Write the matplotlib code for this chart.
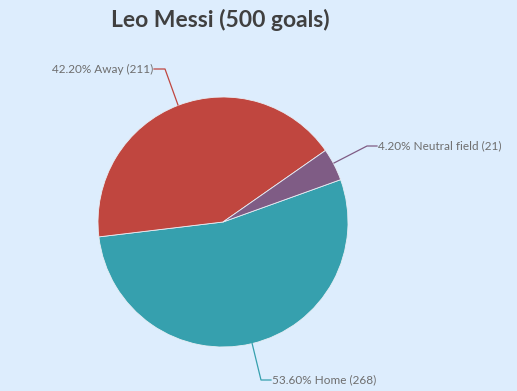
import matplotlib.pyplot as plt

labels = ["Home", "Away", "Neutral field"]
goals = [268, 211, 21]
colors = ["#36A0AE", "#C0463F", "#7F5C85"]

BG = "#DDEDFD"
TXT = "#6E6E6E"

fig = plt.figure(figsize=(5.17, 3.91), dpi=100, facecolor=BG)
ax = fig.add_axes([0, 0, 1, 1])
ax.set_facecolor(BG)

cx, cy, r = 223, 391 - 222, 125
wedges, _ = ax.pie(goals, colors=colors, startangle=19.8, counterclock=False,
                   center=(cx, cy), radius=r, frame=True,
                   wedgeprops=dict(edgecolor="#E8EEF5", linewidth=0.6))
ax.set_xlim(0, 517)
ax.set_ylim(0, 391)
ax.set_aspect("equal")
ax.axis("off")

total = sum(goals)
# label anchor points (pixel coords, y downward): tip on slice, elbow, text start
label_pos = {
    "Home": [(252, 343), (261, 380), (271, 380), "left"],
    "Away": [(178, 105), (165, 69), (154, 69), "right"],
    "Neutral field": [(334, 163), (367, 146), (377, 146), "left"],
}
for lab, g, c in zip(labels, goals, colors):
    p0, p1, p2, ha = label_pos[lab]
    xs = [p0[0], p1[0], p2[0]]
    ys = [391 - p0[1], 391 - p1[1], 391 - p2[1]]
    ax.plot(xs, ys, color=c, lw=0.9)
    tx = p2[0] + (1 if ha == "left" else -1)
    ax.text(tx, 391 - p2[1], f"{g / total * 100:.2f}% {lab} ({g})",
            ha=ha, va="center", fontsize=8.5, color=TXT, family="Lato")

fig.text(0.426, 1 - 20 / 391, "Leo Messi (500 goals)", ha="center", va="center",
         fontsize=16.5, fontweight="bold", color="#404040", family="Lato")

fig.savefig("out.png", dpi=100, facecolor=BG)
